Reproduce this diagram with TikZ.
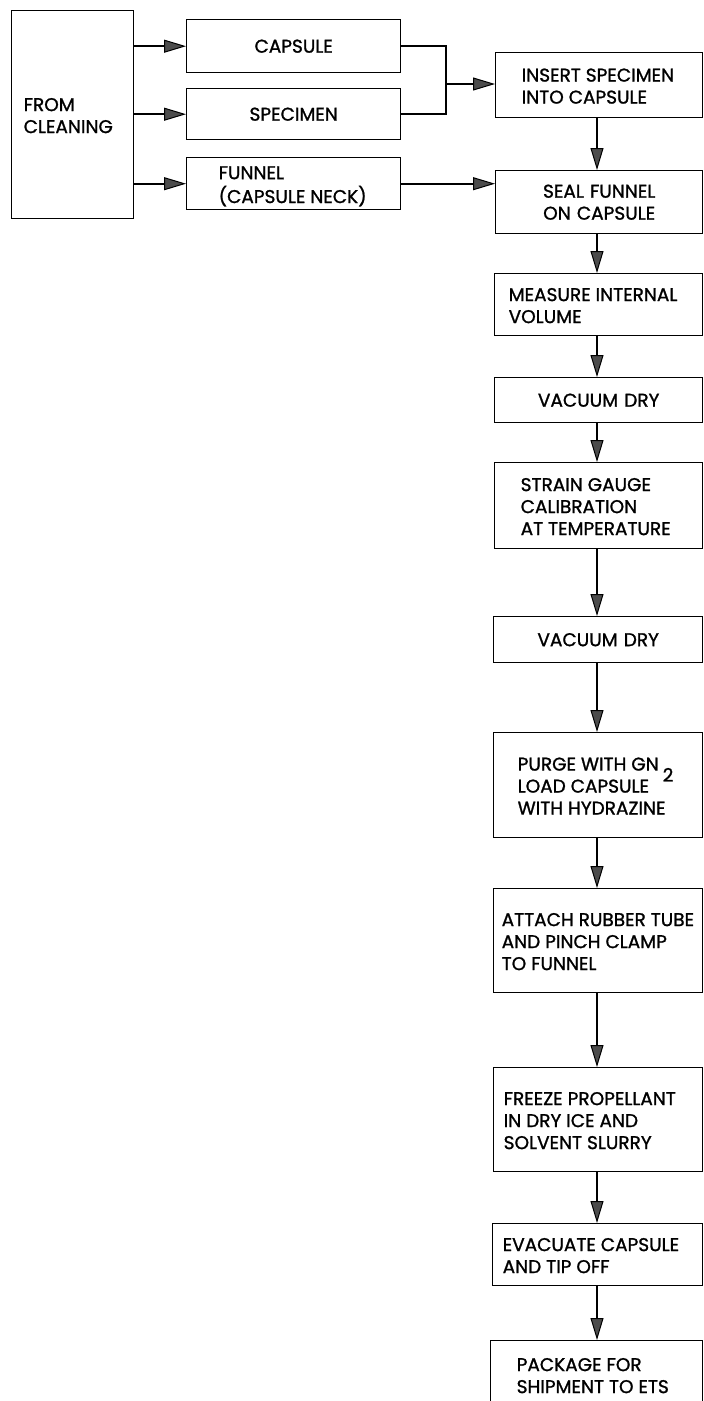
\documentclass[tikz,border=0pt]{standalone}
\usepackage{fontspec}
\setmainfont{Poppins}[FakeBold=1.2]
\usetikzlibrary{arrows.meta}
\tikzset{
  box/.style={draw=black, line width=1.4pt, rectangle, anchor=north west, inner ysep=0pt,
    font=\fontsize{18.5}{22}\selectfont, align=left},
  cbox/.style={box, align=center},
  arr/.style={line width=2.2pt, -{Triangle[length=22pt,width=13pt,fill=black!70,line width=1pt]}},
  con/.style={line width=2.2pt},
}
\newcommand{\bx}[7]{% name, x1, y1, x2, y2, left pad, text
  \pgfmathsetmacro\mytw{#4-#2-2*#6}\pgfmathsetmacro\myh{#5-#3}%
  \node[box, inner xsep=#6pt, minimum height=\myh pt] (#1) at (#2,#3)
    {\makebox[\mytw pt][l]{\raisebox{-3pt}[\height][\depth]{\renewcommand{\arraystretch}{1}\begin{tabular}{@{}l@{}}#7\end{tabular}}}};}
\newcommand{\cbx}[6]{% centered box
  \pgfmathsetmacro\mytw{#4-#2}\pgfmathsetmacro\myh{#5-#3}%
  \node[cbox, inner xsep=0pt, text width=\mytw pt, minimum height=\myh pt] (#1) at (#2,#3) {#6};}
\begin{document}
\begin{tikzpicture}[x=1pt,y=-1pt]
\useasboundingbox (0,0) rectangle (704,1401);
\bx{from}{11}{10}{133}{218}{12}{FROM\\CLEANING}
\cbx{capsule}{186}{19}{400}{72}{CAPSULE}
\cbx{specimen}{186}{88}{400}{139}{SPECIMEN}
\bx{funnel}{186}{157}{400}{209}{32}{FUNNEL\\(CAPSULE NECK)}
\bx{insert}{495}{52}{702}{117}{26}{INSERT SPECIMEN\\INTO CAPSULE}
\cbx{seal}{495}{170}{702}{233}{SEAL FUNNEL\\ON CAPSULE}
\bx{measure}{494}{273}{702}{335}{14}{MEASURE INTERNAL\\VOLUME}
\cbx{vaca}{494}{377}{702}{422}{VACUUM DRY}
\bx{strain}{494}{462}{702}{548}{26}{STRAIN GAUGE\\CALIBRATION\\AT TEMPERATURE}
\cbx{vacb}{493}{616}{702}{662}{VACUUM DRY}
\bx{purge}{493}{732}{702}{837}{24}{PURGE WITH GN\rlap{\hspace{4pt}\raisebox{-11pt}[0pt][0pt]{2}}\\LOAD CAPSULE\\WITH HYDRAZINE}
\bx{attach}{493}{888}{702}{992}{8}{ATTACH RUBBER TUBE\\AND PINCH CLAMP\\TO FUNNEL}
\bx{freeze}{493}{1067}{702}{1171}{10}{FREEZE PROPELLANT\\IN DRY ICE AND\\SOLVENT SLURRY}
\bx{evac}{492}{1223}{702}{1285}{10}{EVACUATE CAPSULE\\AND TIP OFF}
\bx{package}{490}{1340}{702}{1408}{26}{PACKAGE FOR\\SHIPMENT TO ETS}
% left connectors
\draw[arr] (from.east |- capsule.west) -- (capsule.west);
\draw[arr] (from.east |- specimen.west) -- (specimen.west);
\draw[arr] (from.east |- funnel.west) -- (funnel.west);
\coordinate (J) at (446,84);
\draw[con] (capsule.east) -| (J);
\draw[con] (specimen.east) -| (J);
\draw[arr] (J) -- (J -| insert.west);
\draw[arr] (funnel.east) -- (funnel.east -| seal.west);
% column
\foreach \a/\b in {insert/seal, seal/measure, measure/vaca, vaca/strain, strain/vacb, vacb/purge, purge/attach, attach/freeze, freeze/evac, evac/package}
  \draw[arr] (\a.south -| 597,0) -- (\b.north -| 597,0);
\end{tikzpicture}
\end{document}
